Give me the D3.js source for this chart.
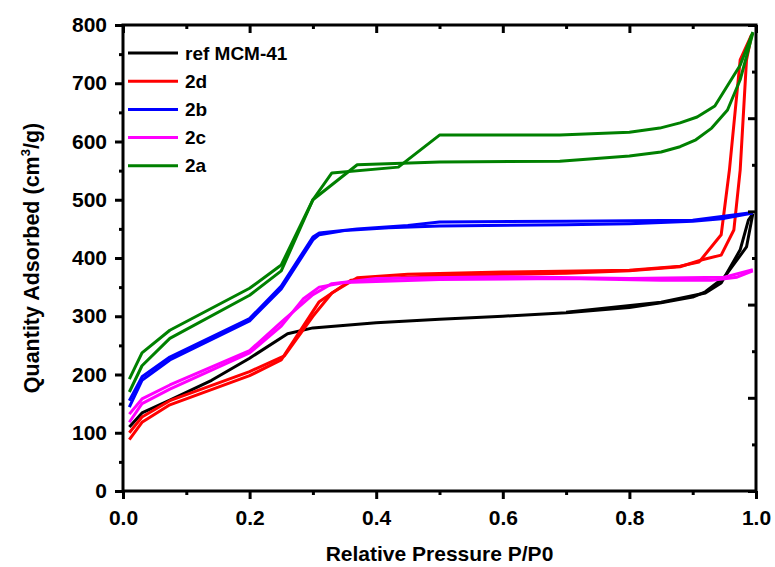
<!DOCTYPE html>
<html>
<head>
<meta charset="utf-8">
<script src="https://cdn.jsdelivr.net/npm/d3@7"></script>
<style>
  body { margin: 0; background: #fff; }
  svg { display: block; font-family: "Liberation Sans", Arial, Helvetica, sans-serif; font-weight: bold; }
</style>
</head>
<body>
<svg id="chart" width="775" height="567"></svg>
<script>
// ---- Data (relative pressure P/P0, quantity adsorbed cm3/g) ----
const seriesNames = ["ref MCM-41", "2d", "2b", "2c", "2a"];
const seriesColors = ["#000000", "#ff0000", "#0000ff", "#ff00ff", "#008000"];

const refAdsorption = [[0.01,110],[0.03,134],[0.074,156],[0.14,190],[0.2,228],[0.26,270],[0.3,280],[0.4,289],[0.5,295],[0.6,300],[0.7,306],[0.8,315],[0.85,323],[0.9,333],[0.92,342],[0.95,367],[0.985,419],[0.995,476]];
const refDesorption = [[0.995,476],[0.988,465],[0.975,414],[0.945,357],[0.92,340],[0.85,324],[0.7,307]];

const s2dAdsorption = [[0.01,88],[0.03,118],[0.074,148],[0.2,198],[0.25,225],[0.31,325],[0.36,362],[0.5,370],[0.7,374],[0.8,378],[0.88,385],[0.915,397],[0.945,405],[0.965,448],[0.975,551],[0.985,740],[0.993,783]];
const s2dDesorption = [[0.993,783],[0.975,740],[0.958,551],[0.945,440],[0.91,393],[0.88,386],[0.8,379],[0.6,376],[0.45,372],[0.37,366],[0.33,340],[0.3,300],[0.255,232],[0.2,205],[0.074,155],[0.03,127],[0.01,100]];

const s2bAdsorption = [[0.01,144],[0.03,190],[0.074,225],[0.2,292],[0.25,347],[0.3,431],[0.31,440],[0.35,447],[0.42,452],[0.5,455],[0.7,457],[0.8,459],[0.9,463],[0.95,468],[0.995,477]];
const s2bDesorption = [[0.995,478],[0.9,465],[0.7,463],[0.5,462],[0.45,456],[0.37,450],[0.31,443],[0.3,436],[0.25,352],[0.2,296],[0.074,230],[0.03,196],[0.01,155]];

const s2cAdsorption = [[0.01,118],[0.03,150],[0.074,175],[0.2,237],[0.25,283],[0.285,330],[0.31,350],[0.35,358],[0.5,363],[0.7,365],[0.85,362],[0.93,362],[0.97,367],[0.995,378]];
const s2cDesorption = [[0.995,380],[0.95,367],[0.8,365],[0.6,368],[0.4,365],[0.33,356],[0.3,337],[0.25,290],[0.2,241],[0.074,182],[0.03,158],[0.01,132]];

const s2aAdsorption = [[0.01,170],[0.03,215],[0.074,262],[0.2,336],[0.25,378],[0.3,500],[0.37,560],[0.5,565],[0.69,566],[0.8,575],[0.85,582],[0.88,591],[0.905,603],[0.93,623],[0.955,654],[0.975,706],[0.995,786]];
const s2aDesorption = [[0.995,788],[0.975,731],[0.935,661],[0.907,642],[0.88,632],[0.848,623],[0.8,616],[0.69,611],[0.5,611],[0.435,556],[0.33,546],[0.3,500],[0.25,388],[0.2,348],[0.074,276],[0.03,237],[0.01,192]];

const xMajorTicks = [0, 0.2, 0.4, 0.6, 0.8, 1.0];
const xMinorTicks = [0.1, 0.3, 0.5, 0.7, 0.9];
const yMajorTicks = [0, 100, 200, 300, 400, 500, 600, 700, 800];
const yMinorTicks = [50, 150, 250, 350, 450, 550, 650, 750];
const rightMajorTicks = [0, 160, 320, 480, 640, 800];
const rightMinorTicks = [80, 240, 400, 560, 720];

const xTitle = "Relative Pressure P/P0";

// ---- Layout ----
const svg = d3.select("#chart");
const plotLeft = 123, plotRight = 756, plotTop = 25, plotBottom = 491;
const x = d3.scaleLinear().domain([0, 1]).range([plotLeft, plotRight]);
const y = d3.scaleLinear().domain([0, 800]).range([plotBottom, plotTop]);

const seriesData = [
  [refAdsorption, refDesorption],
  [s2dAdsorption, s2dDesorption],
  [s2bAdsorption, s2bDesorption],
  [s2cAdsorption, s2cDesorption],
  [s2aAdsorption, s2aDesorption]
];

const line = d3.line().x(d => x(d[0])).y(d => y(d[1]));

// data lines
const gLines = svg.append("g");
seriesData.forEach((branches, i) => {
  branches.forEach(b => {
    gLines.append("path")
      .attr("d", line(b))
      .attr("fill", "none")
      .attr("stroke", seriesColors[i])
      .attr("stroke-width", 3)
      .attr("stroke-linejoin", "round");
  });
});

function styleAxis(g) {
  g.select(".domain").remove();
  g.selectAll(".tick line").attr("stroke", "#000").attr("stroke-width", 3);
  g.selectAll(".tick text").attr("fill", "#000").style("font-size", "21px").style("font-weight", "bold")
    .style("font-family", '"Liberation Sans", Arial, sans-serif');
}

// bottom axis
svg.append("g").attr("transform", `translate(0,${plotBottom})`)
  .call(d3.axisBottom(x).tickValues(xMajorTicks).tickSize(8).tickPadding(11).tickFormat(d3.format(".1f")))
  .call(styleAxis);
svg.append("g").attr("transform", `translate(0,${plotBottom})`)
  .call(d3.axisBottom(x).tickValues(xMinorTicks).tickSize(4).tickFormat(""))
  .call(styleAxis);
// top axis (inward)
svg.append("g").attr("transform", `translate(0,${plotTop})`)
  .call(d3.axisTop(x).tickValues(xMajorTicks).tickSize(-8).tickFormat(""))
  .call(styleAxis);
svg.append("g").attr("transform", `translate(0,${plotTop})`)
  .call(d3.axisTop(x).tickValues(xMinorTicks).tickSize(-4).tickFormat(""))
  .call(styleAxis);
// left axis
svg.append("g").attr("transform", `translate(${plotLeft},0)`)
  .call(d3.axisLeft(y).tickValues(yMajorTicks).tickSize(8).tickPadding(8).tickFormat(d3.format("d")))
  .call(styleAxis);
svg.append("g").attr("transform", `translate(${plotLeft},0)`)
  .call(d3.axisLeft(y).tickValues(yMinorTicks).tickSize(4).tickFormat(""))
  .call(styleAxis);
// right axis (inward)
svg.append("g").attr("transform", `translate(${plotRight},0)`)
  .call(d3.axisRight(y).tickValues(rightMajorTicks).tickSize(-8).tickFormat(""))
  .call(styleAxis);
svg.append("g").attr("transform", `translate(${plotRight},0)`)
  .call(d3.axisRight(y).tickValues(rightMinorTicks).tickSize(-4).tickFormat(""))
  .call(styleAxis);

// frame
svg.append("rect")
  .attr("x", plotLeft).attr("y", plotTop)
  .attr("width", plotRight - plotLeft).attr("height", plotBottom - plotTop)
  .attr("fill", "none").attr("stroke", "#000").attr("stroke-width", 3);

// axis titles
svg.append("text")
  .attr("x", (plotLeft + plotRight) / 2).attr("y", 561)
  .attr("text-anchor", "middle")
  .style("font-size", "21px")
  .text(xTitle);

const yt = svg.append("text")
  .attr("transform", `translate(39,${(plotTop + plotBottom) / 2}) rotate(-90)`)
  .attr("text-anchor", "middle")
  .style("font-size", "21.5px");
yt.append("tspan").text("Quantity Adsorbed (cm");
yt.append("tspan").attr("dy", -9).style("font-size", "13px").text("3");
yt.append("tspan").attr("dy", 9).text("/g)");

// legend
const legend = svg.append("g");
const legendY0 = 53, legendStep = 28.2;
seriesNames.forEach((name, i) => {
  const ly = legendY0 + i * legendStep;
  legend.append("line")
    .attr("x1", 128).attr("x2", 178).attr("y1", ly).attr("y2", ly)
    .attr("stroke", seriesColors[i]).attr("stroke-width", 3);
  legend.append("text")
    .attr("x", 185).attr("y", ly).attr("dy", "0.35em")
    .style("font-size", "19px")
    .text(name);
});
</script>
</body>
</html>
